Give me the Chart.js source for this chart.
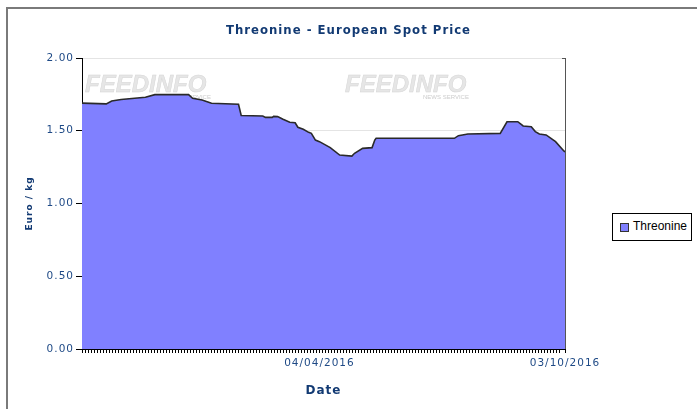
<!DOCTYPE html>
<html>
<head>
<meta charset="utf-8">
<script src="https://cdn.jsdelivr.net/npm/chart.js@4/dist/chart.umd.min.js"></script>
<style>
  html, body { margin: 0; padding: 0; background: #fff; }
  #wrap { position: relative; width: 697px; height: 409px; overflow: hidden; background: #fff; }
  #frame { position: absolute; left: 6px; top: 7px; width: 800px; height: 500px; border-left: 2px solid #7a7a7a; border-top: 2px solid #7a7a7a; }
  #c { position: absolute; left: 0; top: 0; }
  #legend { position: absolute; left: 612px; top: 213px; width: 78px; height: 26px; border: 1px solid #000; background: #fff;
            font-family: "Liberation Sans", Arial, sans-serif; font-size: 12px; color: #000; }
  #legend .sw { position: absolute; left: 7px; top: 9px; width: 7px; height: 7px; background: #8080ff; border: 1px solid #333; }
  #legend .tx { position: absolute; left: 20px; top: 5px; line-height: 14px; }
</style>
</head>
<body>
<div id="wrap">
  <div id="frame"></div>
  <canvas id="c" width="697" height="409"></canvas>
  <div id="legend"><span class="sw"></span><span class="tx">Threonine</span></div>
</div>
<script>
// ---- data ----
const seriesName = 'Threonine';
const dates = ['2015-10-11','2015-10-29','2015-11-02','2015-11-09','2015-11-27','2015-12-04','2015-12-29','2016-01-01',
  '2016-01-08','2016-01-15','2016-02-04','2016-02-06','2016-02-22','2016-02-24','2016-02-29','2016-03-01',
  '2016-03-04','2016-03-08','2016-03-13','2016-03-17','2016-03-19','2016-03-23','2016-03-27','2016-03-29',
  '2016-04-01','2016-04-04','2016-04-12','2016-04-19','2016-04-28','2016-04-30','2016-05-06','2016-05-13',
  '2016-05-15','2016-05-16','2016-07-13','2016-07-16','2016-07-23','2016-08-16','2016-08-21','2016-08-29',
  '2016-09-02','2016-09-08','2016-09-11','2016-09-14','2016-09-19','2016-09-26','2016-10-02','2016-10-03'];
const prices = [1.69,1.685,1.705,1.715,1.73,1.748,1.748,1.723,
  1.711,1.689,1.682,1.605,1.601,1.592,1.592,1.599,
  1.597,1.579,1.558,1.555,1.524,1.51,1.489,1.482,
  1.436,1.425,1.384,1.333,1.326,1.345,1.379,1.384,
  1.436,1.448,1.448,1.466,1.478,1.482,1.562,1.562,
  1.533,1.528,1.494,1.478,1.471,1.425,1.363,1.354];
const xTickDates = ['2016-04-04','2016-10-03'];
const xTickLabels = ['04/04/2016','03/10/2016'];
const yTicks = [0, 0.5, 1, 1.5, 2];

// ---- helpers ----
const refDate = Date.UTC(2016, 3, 4);
function dayOf(s) { const p = s.split('-').map(Number); return Math.round((Date.UTC(p[0], p[1]-1, p[2]) - refDate) / 86400000); }
const points = dates.map((d, i) => ({ x: dayOf(d), y: prices[i] }));
const tickDays = xTickDates.map(dayOf);
const xMin = dayOf(dates[0]);
const xMax = dayOf(dates[dates.length - 1]);
const minorStep = (tickDays[1] - tickDays[0]) / 82;

const navy = '#123a73';
const tickBlue = '#1f4a86';

const spacingPlugin = {
  id: 'spacing',
  beforeDraw(chart) { chart.ctx.letterSpacing = '1px'; }
};
const watermarkPlugin = {
  id: 'watermark',
  beforeDatasetsDraw(chart) {
    const ctx = chart.ctx;
    ctx.save();
    ctx.letterSpacing = '0px';
    ctx.textBaseline = 'alphabetic';
    ctx.textAlign = 'left';
    [[85, 92, 165], [345, 92, 423]].forEach(([x, y, nx]) => {
      ctx.font = 'italic bold 24px "Liberation Sans", Arial, sans-serif';
      ctx.fillStyle = '#e6e6e6';
      ctx.strokeStyle = '#d6d6d6';
      ctx.lineWidth = 0.5;
      ctx.fillText('FEEDINFO', x, y);
      ctx.strokeText('FEEDINFO', x, y);
      ctx.font = '6px "Liberation Sans", Arial, sans-serif';
      ctx.fillStyle = '#cccccc';
      ctx.fillText('NEWS SERVICE', nx, y + 7);
    });
    ctx.restore();
  }
};
const borderPlugin = {
  id: 'rightBorder',
  afterDatasetsDraw(chart) {
    const a = chart.chartArea, ctx = chart.ctx;
    ctx.save();
    ctx.strokeStyle = '#555';
    ctx.lineWidth = 1;
    ctx.beginPath();
    ctx.moveTo(a.right + 0.5, a.top);
    ctx.lineTo(a.right + 0.5, a.bottom);
    ctx.moveTo(a.right - 3, a.top + 0.5);
    ctx.lineTo(a.right + 1, a.top + 0.5);
    ctx.stroke();
    ctx.restore();
  }
};

new Chart(document.getElementById('c'), {
  type: 'line',
  data: {
    datasets: [{
      label: seriesName,
      data: points,
      fill: 'origin',
      backgroundColor: '#8080ff',
      borderColor: '#2a2a2a',
      borderWidth: 1.6,
      pointRadius: 0,
      tension: 0
    }]
  },
  options: {
    responsive: false,
    animation: false,
    layout: { padding: { left: 0, right: 0, top: 0, bottom: 0 } },
    plugins: {
      legend: { display: false },
      tooltip: { enabled: false },
      title: {
        display: true,
        text: 'Threonine - European Spot Price',
        color: navy,
        font: { family: '"DejaVu Sans Condensed", "DejaVu Sans", sans-serif', size: 13, weight: 'bold' },
        padding: { top: 22.5, bottom: 19.9 }
      }
    },
    scales: {
      x: {
        type: 'linear',
        min: xMin,
        max: xMax,
        afterFit(s) { s.height = 60; },
        border: { display: true, color: '#000', width: 1 },
        grid: { drawOnChartArea: false, drawTicks: true, tickLength: 4, tickColor: '#000', tickWidth: 1 },
        ticks: {
          stepSize: minorStep,
          autoSkip: false,
          maxRotation: 0,
          padding: 4,
          color: tickBlue,
          font: { family: '"DejaVu Sans", Verdana, sans-serif', size: 10.5 },
          callback(v) {
            for (let i = 0; i < tickDays.length; i++) if (Math.abs(v - tickDays[i]) < 0.5) return xTickLabels[i];
            return '';
          }
        },
        title: {
          display: true,
          text: 'Date',
          color: navy,
          font: { family: '"DejaVu Sans", Verdana, sans-serif', size: 12, weight: 'bold' },
          padding: { top: 0, bottom: 11 }
        }
      },
      y: {
        min: yTicks[0],
        max: yTicks[yTicks.length - 1],
        afterFit(s) { s.width = 82; },
        afterBuildTicks(s) { s.ticks = yTicks.map(v => ({ value: v })); },
        border: { display: true, color: '#000', width: 1 },
        grid: {
          color: (c) => (c.tick && c.tick.value === 0) ? 'rgba(0,0,0,0)' : '#e4e4e4',
          tickColor: '#000',
          tickLength: 6,
          lineWidth: 1
        },
        ticks: {
          padding: 2,
          color: tickBlue,
          font: { family: '"DejaVu Sans", Verdana, sans-serif', size: 10.5 },
          callback: (v) => Number(v).toFixed(2)
        },
        title: {
          display: true,
          text: 'Euro / kg',
          color: navy,
          font: { family: '"DejaVu Sans", Verdana, sans-serif', size: 9, weight: 'bold' },
          padding: { top: 24, bottom: 0 }
        }
      },
      yRight: {
        position: 'right',
        min: yTicks[0],
        max: yTicks[yTicks.length - 1],
        afterFit(s) { s.width = 132; },
        border: { display: false },
        grid: { display: false, drawTicks: false },
        ticks: { display: false }
      }
    }
  },
  plugins: [spacingPlugin, watermarkPlugin, borderPlugin]
});
</script>
</body>
</html>
